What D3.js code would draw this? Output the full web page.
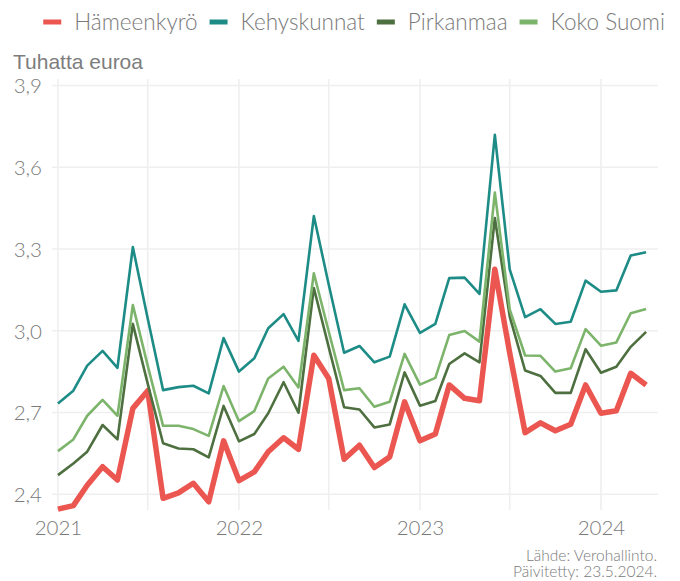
<!DOCTYPE html>
<html>
<head>
<meta charset="utf-8">
<script src="https://cdn.jsdelivr.net/npm/d3@7"></script>
<style>
  html, body { margin: 0; padding: 0; background: #fff; }
  svg { display: block; }
</style>
</head>
<body>
<svg id="chart" width="680" height="581"></svg>
<script>
// Monthly values (thousand euros), January 2021 – April 2024
const months = d3.range(40).map(i => new Date(2021, i, 1));

const seriesNames = ["Hämeenkyrö", "Kehyskunnat", "Pirkanmaa", "Koko Suomi"];

const hameenkyro = [
  2.345, 2.358, 2.433, 2.501, 2.452, 2.715, 2.780, 2.385, 2.405, 2.440, 2.372, 2.596,
  2.450, 2.482, 2.556, 2.607, 2.565, 2.910, 2.825, 2.528, 2.580, 2.498, 2.537, 2.739,
  2.596, 2.621, 2.801, 2.752, 2.743, 3.226, 2.918, 2.626, 2.662, 2.633, 2.657, 2.801,
  2.697, 2.706, 2.844, 2.801
];
const kehyskunnat = [
  2.733, 2.780, 2.872, 2.926, 2.864, 3.307, 3.045, 2.782, 2.793, 2.798, 2.770, 2.973,
  2.850, 2.899, 3.009, 3.061, 2.963, 3.421, 3.170, 2.919, 2.944, 2.884, 2.905, 3.097,
  2.992, 3.025, 3.193, 3.195, 3.135, 3.719, 3.225, 3.050, 3.079, 3.025, 3.033, 3.184,
  3.143, 3.148, 3.276, 3.288
];
const pirkanmaa = [
  2.470, 2.513, 2.556, 2.654, 2.601, 3.025, 2.806, 2.587, 2.568, 2.565, 2.535, 2.724,
  2.594, 2.621, 2.697, 2.811, 2.699, 3.157, 2.940, 2.719, 2.711, 2.645, 2.656, 2.847,
  2.725, 2.742, 2.878, 2.917, 2.884, 3.414, 3.052, 2.854, 2.834, 2.772, 2.772, 2.932,
  2.846, 2.868, 2.941, 2.996
];
const kokoSuomi = [
  2.558, 2.601, 2.688, 2.746, 2.688, 3.094, 2.872, 2.651, 2.651, 2.639, 2.614, 2.797,
  2.668, 2.705, 2.825, 2.868, 2.792, 3.211, 2.997, 2.782, 2.789, 2.721, 2.739, 2.915,
  2.802, 2.827, 2.984, 2.999, 2.960, 3.507, 3.078, 2.909, 2.908, 2.850, 2.862, 3.006,
  2.945, 2.957, 3.064, 3.080
];

const yTicks = [2.4, 2.7, 3.0, 3.3, 3.6, 3.9];
const xTickYears = [2021, 2022, 2023, 2024];
const xGridDates = [
  new Date(2021, 0, 1), new Date(2021, 6, 1), new Date(2022, 0, 1), new Date(2022, 6, 1),
  new Date(2023, 0, 1), new Date(2023, 6, 1), new Date(2024, 0, 1)
];

const colors = ["#EB5650", "#1E8C86", "#4E6F3F", "#7DB46B"];
const widths = [5.5, 2.6, 2.6, 2.6];

const yTitle = "Tuhatta euroa";
const captionLines = ["Lähde: Verohallinto.", "Päivitetty: 23.5.2024."];

const seriesValues = [hameenkyro, kehyskunnat, pirkanmaa, kokoSuomi];
const series = seriesNames.map((name, k) => ({
  name,
  color: colors[k],
  width: widths[k],
  values: months.map((d, i) => ({ date: d, value: seriesValues[k][i] }))
}));

const svg = d3.select("#chart");
const plot = { left: 52, right: 658, top: 79, bottom: 510 };

const x = d3.scaleTime()
  .domain([new Date(2020, 11, 20), new Date(2024, 3, 25)])
  .range([plot.left, plot.right]);

const y = d3.scaleLinear()
  .domain([2.342, 3.924])
  .range([plot.bottom, plot.top]);

const fiLocale = d3.formatLocale({ decimal: ",", thousands: "\u00a0", grouping: [3], currency: ["", " €"] });
const fmt = fiLocale.format(".1f");

const axisFont = "Lato, 'Open Sans', sans-serif";
const textColor = "#7a7a7a";
const gridColor = "#efefef";

// grid
const grid = svg.append("g");
grid.selectAll("line.h").data(yTicks).join("line")
  .attr("x1", plot.left).attr("x2", plot.right)
  .attr("y1", d => y(d)).attr("y2", d => y(d))
  .attr("stroke", gridColor).attr("stroke-width", 1.6);
grid.selectAll("line.v").data(xGridDates).join("line")
  .attr("x1", d => x(d)).attr("x2", d => x(d))
  .attr("y1", plot.top).attr("y2", plot.bottom)
  .attr("stroke", gridColor).attr("stroke-width", 1.6);

// y axis
const yAxis = svg.append("g")
  .attr("transform", `translate(${plot.left - 10},0)`)
  .call(d3.axisLeft(y).tickValues(yTicks).tickFormat(fmt).tickSize(0).tickPadding(0));
yAxis.select(".domain").remove();
yAxis.selectAll("text")
  .attr("font-family", axisFont).attr("font-weight", 300)
  .attr("font-size", 20.5).attr("fill", textColor)
  .attr("dy", "0.36em");

// x axis
const xAxis = svg.append("g")
  .attr("transform", `translate(0,${plot.bottom})`)
  .call(d3.axisBottom(x).tickValues(xTickYears.map(yr => new Date(yr, 0, 1)))
    .tickFormat(d3.timeFormat("%Y")).tickSize(0).tickPadding(0));
xAxis.select(".domain").remove();
xAxis.selectAll("text")
  .attr("font-family", axisFont).attr("font-weight", 300)
  .attr("font-size", 20.5).attr("fill", textColor)
  .attr("dy", "1.22em");

// lines
const line = d3.line().x(d => x(d.date)).y(d => y(d.value));
svg.append("g").selectAll("path").data(series).join("path")
  .attr("d", d => line(d.values))
  .attr("fill", "none")
  .attr("stroke", d => d.color)
  .attr("stroke-width", d => d.width)
  .attr("stroke-linejoin", "round")
  .attr("stroke-linecap", "butt");

// y title
svg.append("text")
  .attr("x", 13).attr("y", 69)
  .attr("font-family", "'Liberation Sans', Arial, sans-serif")
  .attr("font-size", 21).attr("fill", "#7d7d7d")
  .text(yTitle);

// legend, right-aligned across the top
const legend = svg.append("g");
const items = legend.selectAll("g").data(series).join("g");
items.append("line")
  .attr("x1", 0).attr("x2", 18).attr("y1", 0).attr("y2", 0)
  .attr("stroke", d => d.color).attr("stroke-width", 5);
items.append("text")
  .attr("x", 31).attr("y", 0).attr("dy", "0.35em")
  .attr("font-family", axisFont).attr("font-weight", 300)
  .attr("font-size", 22.5).attr("fill", textColor)
  .text(d => d.name);
let cursor = 0;
const offsets = [];
items.each(function () {
  const w = 31 + d3.select(this).select("text").node().getComputedTextLength();
  offsets.push(cursor);
  cursor += w + 12;
});
const legendWidth = cursor - 12;
const legendStart = 665 - legendWidth;
items.attr("transform", (d, i) => `translate(${legendStart + offsets[i]},22)`);

// caption, right-aligned below the axis
const caption = svg.append("text")
  .attr("font-family", axisFont).attr("font-weight", 300)
  .attr("font-size", 15.5).attr("fill", textColor)
  .attr("text-anchor", "end");
caption.selectAll("tspan").data(captionLines).join("tspan")
  .attr("x", 657).attr("y", (d, i) => 560.5 + i * 16.5)
  .text(d => d);
</script>
</body>
</html>
